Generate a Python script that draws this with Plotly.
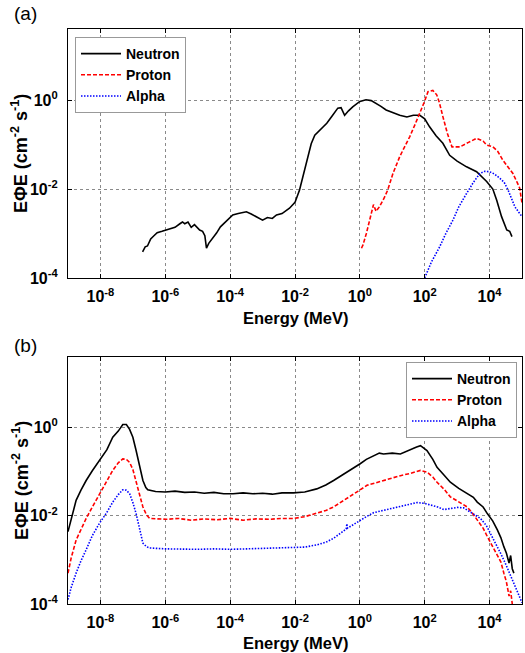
import plotly.graph_objects as go

# ---------------- data (log10 energy in MeV, log10 flux) ----------------
# Panel (a)
a_neutron_logE = [-6.70, -6.62, -6.55, -6.45, -6.35, -6.25, -6.10, -5.96, -5.85, -5.70, -5.55, -5.47, -5.40,
                  -5.30, -5.20, -5.10, -4.94, -4.85, -4.78, -4.73, -4.66, -4.55, -4.42, -4.30, -4.15, -3.92,
                  -3.75, -3.60, -3.50, -3.35, -3.19, -3.10, -3.00, -2.85, -2.70, -2.57, -2.40, -2.17, -2.00,
                  -1.86, -1.75, -1.65, -1.50, -1.39, -1.20, -1.02, -0.85, -0.68, -0.58, -0.47, -0.35, -0.22,
                  0.00, 0.19, 0.35, 0.50, 0.65, 0.81, 1.00, 1.23, 1.45, 1.65, 1.85, 2.00, 2.15, 2.35, 2.56,
                  2.77, 3.00, 3.29, 3.60, 3.91, 4.10, 4.22, 4.37, 4.53, 4.62, 4.69]
a_neutron_logF = [-3.41, -3.30, -3.28, -3.12, -3.05, -2.98, -2.95, -2.92, -2.88, -2.86, -2.78, -2.74, -2.78,
                  -2.74, -2.86, -2.80, -2.92, -2.95, -3.05, -3.33, -3.22, -3.12, -2.99, -2.85, -2.75, -2.58,
                  -2.55, -2.53, -2.51, -2.56, -2.62, -2.66, -2.70, -2.64, -2.66, -2.58, -2.55, -2.43, -2.30,
                  -2.02, -1.70, -1.35, -0.98, -0.79, -0.65, -0.52, -0.35, -0.18, -0.17, -0.34, -0.24, -0.15,
                  -0.03, 0.01, -0.01, -0.07, -0.14, -0.22, -0.28, -0.34, -0.38, -0.34, -0.34, -0.42, -0.60,
                  -0.80, -0.97, -1.24, -1.37, -1.50, -1.61, -1.83, -2.00, -2.25, -2.62, -2.92, -2.95, -3.07]

a_proton_logE = [0.05, 0.10, 0.20, 0.30, 0.36, 0.42, 0.50, 0.60, 0.75, 0.86, 1.02, 1.12, 1.23, 1.38, 1.54,
                 1.70, 1.85, 2.00, 2.10, 2.25, 2.37, 2.45, 2.56, 2.70, 2.84, 3.09, 3.35, 3.60, 3.80, 3.91,
                 4.10, 4.25, 4.41, 4.55, 4.72, 4.85, 4.93, 5.00]
a_proton_logF = [-3.33, -3.25, -3.00, -2.70, -2.47, -2.35, -2.50, -2.40, -2.20, -2.02, -1.65, -1.45, -1.27,
                 -1.05, -0.82, -0.55, -0.30, -0.02, 0.19, 0.22, 0.12, -0.05, -0.37, -0.75, -1.05, -1.05,
                 -0.95, -0.86, -0.92, -1.01, -1.05, -1.15, -1.35, -1.48, -1.65, -1.85, -1.98, -2.32]

a_alpha_logE = [2.00, 2.20, 2.46, 2.65, 2.87, 3.05, 3.29, 3.50, 3.70, 3.85, 4.00, 4.15, 4.32, 4.45, 4.57,
                4.68, 4.78, 4.90, 5.00]
a_alpha_logF = [-4.00, -3.65, -3.30, -3.00, -2.70, -2.40, -2.10, -1.85, -1.65, -1.60, -1.61, -1.66, -1.76,
                -1.85, -2.02, -2.20, -2.40, -2.52, -2.62]

# Panel (b)
b_neutron_logE = [-9.00, -8.90, -8.75, -8.60, -8.44, -8.25, -8.03, -7.80, -7.62, -7.45, -7.31, -7.20, -7.10,
                  -7.00, -6.90, -6.80, -6.69, -6.60, -6.54, -6.30, -6.00, -5.70, -5.40, -5.10, -4.80, -4.50,
                  -4.20, -3.91, -3.60, -3.30, -3.00, -2.70, -2.40, -2.05, -1.70, -1.33, -1.05, -0.81, -0.55,
                  -0.30, -0.10, 0.01, 0.20, 0.42, 0.60, 0.73, 1.00, 1.25, 1.40, 1.56, 1.75, 1.87, 2.07, 2.25,
                  2.38, 2.60, 2.79, 3.05, 3.31, 3.50, 3.62, 3.80, 3.93, 4.10, 4.24, 4.35, 4.44, 4.52, 4.60,
                  4.65, 4.70, 4.75]
b_neutron_logF = [-2.36, -2.05, -1.65, -1.42, -1.20, -0.98, -0.75, -0.50, -0.22, -0.08, 0.07, 0.07, -0.04,
                  -0.22, -0.52, -0.85, -1.20, -1.36, -1.41, -1.45, -1.46, -1.44, -1.47, -1.46, -1.49, -1.47,
                  -1.50, -1.50, -1.48, -1.50, -1.49, -1.51, -1.48, -1.48, -1.46, -1.39, -1.30, -1.20, -1.08,
                  -0.97, -0.88, -0.82, -0.72, -0.64, -0.58, -0.60, -0.58, -0.60, -0.55, -0.49, -0.44, -0.41,
                  -0.52, -0.72, -0.90, -1.08, -1.24, -1.38, -1.50, -1.58, -1.69, -1.80, -1.95, -2.12, -2.32,
                  -2.50, -2.70, -2.85, -3.07, -2.90, -3.20, -3.30]

b_proton_logE = [-9.00, -8.90, -8.75, -8.60, -8.44, -8.25, -8.03, -7.80, -7.62, -7.45, -7.31, -7.20, -7.10,
                 -7.00, -6.90, -6.80, -6.69, -6.58, -6.48, -6.20, -5.97, -5.60, -5.20, -4.80, -4.40, -4.00,
                 -3.60, -3.20, -2.80, -2.40, -2.05, -1.70, -1.33, -1.05, -0.81, -0.55, -0.30, -0.05, 0.22,
                 0.45, 0.73, 1.00, 1.25, 1.55, 1.87, 2.07, 2.25, 2.38, 2.60, 2.79, 3.05, 3.31, 3.45, 3.62,
                 3.80, 3.93, 4.10, 4.24, 4.35, 4.44, 4.52, 4.60, 4.65, 4.70]
b_proton_logF = [-3.30, -2.95, -2.55, -2.30, -2.06, -1.80, -1.50, -1.22, -0.97, -0.80, -0.71, -0.72, -0.79,
                 -0.95, -1.20, -1.50, -1.80, -1.98, -2.06, -2.08, -2.08, -2.06, -2.10, -2.07, -2.09, -2.06,
                 -2.10, -2.07, -2.08, -2.06, -2.06, -2.02, -1.95, -1.88, -1.80, -1.68, -1.57, -1.44, -1.31,
                 -1.26, -1.20, -1.15, -1.09, -1.04, -0.97, -1.01, -1.12, -1.24, -1.40, -1.57, -1.68, -1.80,
                 -1.92, -2.10, -2.28, -2.47, -2.70, -2.92, -3.05, -3.30, -3.50, -3.82, -3.70, -4.00]

b_alpha_logE = [-9.00, -8.90, -8.75, -8.60, -8.44, -8.25, -8.03, -7.80, -7.62, -7.45, -7.31, -7.20, -7.10,
                -7.00, -6.90, -6.80, -6.69, -6.58, -6.48, -6.00, -5.50, -5.00, -4.50, -4.00, -3.50, -3.00,
                -2.50, -2.05, -1.70, -1.33, -1.05, -0.81, -0.60, -0.42, -0.40, -0.38, -0.20, 0.01, 0.20,
                0.42, 0.60, 0.73, 1.00, 1.25, 1.50, 1.76, 2.00, 2.18, 2.40, 2.59, 2.80, 3.00, 3.20, 3.41,
                3.60, 3.72, 3.90, 4.03, 4.20, 4.34, 4.50, 4.65, 4.85, 5.00]
b_alpha_logF = [-3.90, -3.62, -3.30, -3.02, -2.77, -2.45, -2.17, -1.92, -1.69, -1.52, -1.41, -1.42, -1.50,
                -1.70, -1.95, -2.30, -2.62, -2.70, -2.73, -2.75, -2.76, -2.76, -2.75, -2.76, -2.75, -2.74,
                -2.74, -2.73, -2.71, -2.66, -2.60, -2.51, -2.40, -2.30, -2.18, -2.28, -2.20, -2.10, -2.02,
                -1.93, -1.90, -1.87, -1.84, -1.80, -1.75, -1.70, -1.72, -1.76, -1.80, -1.86, -1.84, -1.81,
                -1.82, -1.91, -2.00, -2.06, -2.22, -2.40, -2.62, -2.85, -3.10, -3.37, -3.70, -3.97]

x_tickvals_exp = [-8, -6, -4, -2, 0, 2, 4]
y_tickvals_exp = [-4, -2, 0]

# ---------------- figure ----------------
W, H = 525, 653
FONT = "Liberation Sans"


def px_x(p):
    return p / W


def px_y(p):
    return (H - p) / H


def pw(vals):
    return [10 ** v for v in vals]


fig = go.Figure()

styles = {
    "Neutron": dict(color="black", dash="solid", width=1.6),
    "Proton": dict(color="#ff0000", dash="4px,2px", width=1.6),
    "Alpha": dict(color="#0000ff", dash="1.5px,1.5px", width=1.6),
}

panel_a = [("Neutron", a_neutron_logE, a_neutron_logF),
           ("Proton", a_proton_logE, a_proton_logF),
           ("Alpha", a_alpha_logE, a_alpha_logF)]
panel_b = [("Neutron", b_neutron_logE, b_neutron_logF),
           ("Proton", b_proton_logE, b_proton_logF),
           ("Alpha", b_alpha_logE, b_alpha_logF)]

for name, lx, ly in panel_a:
    fig.add_trace(go.Scatter(x=pw(lx), y=pw(ly), mode="lines", name=f"<b>{name}</b>",
                             line=styles[name], xaxis="x", yaxis="y", legend="legend"))
for name, lx, ly in panel_b:
    fig.add_trace(go.Scatter(x=pw(lx), y=pw(ly), mode="lines", name=f"<b>{name}</b>",
                             line=styles[name], xaxis="x2", yaxis="y2", legend="legend2"))

xt_vals = [10 ** e for e in x_tickvals_exp]
xt_text = [f"<b>10<sup>{e}</sup></b>" for e in x_tickvals_exp]
yt_vals = [10 ** e for e in y_tickvals_exp]
yt_text = [f"<b>10<sup>{e}</sup></b>" for e in y_tickvals_exp]

axis_common = dict(showline=True, linecolor="black", linewidth=1.2, mirror="ticks",
                   showgrid=True, gridcolor="#8a8a8a", griddash="3px,3px", gridwidth=0.9,
                   ticks="inside", ticklen=4, tickcolor="black", zeroline=False,
                   automargin=False, tickfont=dict(family=FONT, size=16, color="black"))

xdom = [px_x(68), px_x(522)]
fig.update_layout(
    xaxis=dict(type="log", range=[-9, 5], domain=xdom, anchor="y",
               tickvals=xt_vals, ticktext=xt_text, ticklabelstandoff=4, **axis_common),
    yaxis=dict(type="log", range=[-4, 1.6], domain=[px_y(278), px_y(29)], anchor="x",
               tickvals=yt_vals, ticktext=yt_text, ticklabelstandoff=6, **axis_common),
    xaxis2=dict(type="log", range=[-9, 5], domain=xdom, anchor="y2",
                tickvals=xt_vals, ticktext=xt_text, ticklabelstandoff=4, **axis_common),
    yaxis2=dict(type="log", range=[-4, 1.6], domain=[px_y(604), px_y(357)], anchor="x2",
                tickvals=yt_vals, ticktext=yt_text, ticklabelstandoff=6, **axis_common),
    width=W, height=H,
    margin=dict(l=0, r=0, t=0, b=0),
    paper_bgcolor="white", plot_bgcolor="white",
    font=dict(family=FONT, color="black"),
    legend=dict(x=px_x(75), y=px_y(37), xanchor="left", yanchor="top",
                bgcolor="white", bordercolor="#999999", borderwidth=1,
                font=dict(family=FONT, size=14, color="black"),
                tracegroupgap=0, itemwidth=40),
    legend2=dict(x=px_x(406), y=px_y(362), xanchor="left", yanchor="top",
                 bgcolor="white", bordercolor="#999999", borderwidth=1,
                 font=dict(family=FONT, size=14, color="black"),
                 tracegroupgap=0, itemwidth=40),
    showlegend=True,
)

ytitle = "<b>E\u03a6E (cm<sup>-2</sup> s<sup>-1</sup>)</b>"
annotations = [
    dict(text="(a)", x=px_x(12), y=px_y(14), xanchor="left", yanchor="middle",
         showarrow=False, font=dict(family=FONT, size=19, color="black")),
    dict(text="(b)", x=px_x(12), y=px_y(345), xanchor="left", yanchor="middle",
         showarrow=False, font=dict(family=FONT, size=19, color="black")),
    dict(text="<b>Energy (MeV)</b>", x=px_x(295), y=px_y(318), xanchor="center", yanchor="middle",
         showarrow=False, font=dict(family=FONT, size=16.5, color="black")),
    dict(text="<b>Energy (MeV)</b>", x=px_x(295), y=px_y(643), xanchor="center", yanchor="middle",
         showarrow=False, font=dict(family=FONT, size=16.5, color="black")),
    dict(text=ytitle, x=px_x(20), y=px_y(154), xanchor="center", yanchor="middle", textangle=-90,
         showarrow=False, font=dict(family=FONT, size=18, color="black")),
    dict(text=ytitle, x=px_x(20), y=px_y(481), xanchor="center", yanchor="middle", textangle=-90,
         showarrow=False, font=dict(family=FONT, size=18, color="black")),
]
for a in annotations:
    a["xref"] = "paper"
    a["yref"] = "paper"
fig.update_layout(annotations=annotations)

fig.write_html("out.html")
